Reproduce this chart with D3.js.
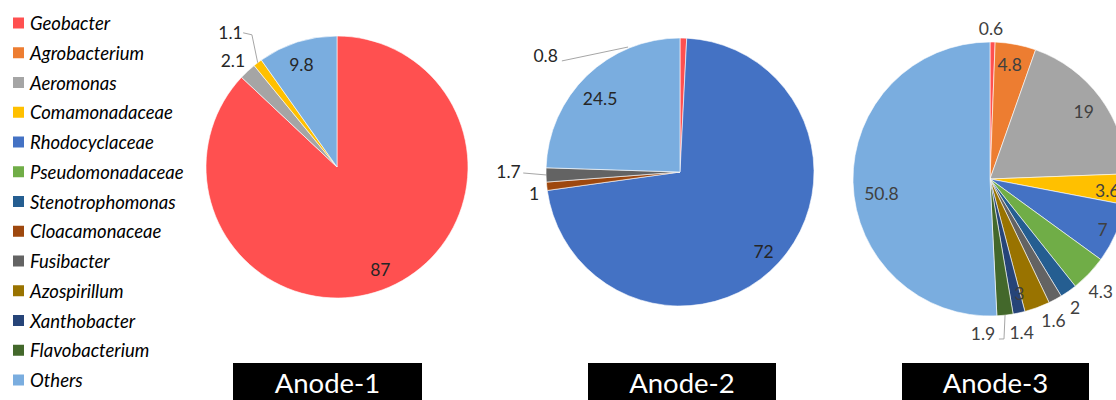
<!DOCTYPE html>
<html>
<head>
<meta charset="utf-8">
<script src="https://cdn.jsdelivr.net/npm/d3@7"></script>
<style>
  html, body { margin: 0; padding: 0; background: #fff; }
  svg { display: block; }
</style>
</head>
<body>
<svg id="chart" width="1116" height="400"></svg>
<script>
// Genus / family groups, in legend and slice order
const categories = [
  "Geobacter", "Agrobacterium", "Aeromonas", "Comamonadaceae", "Rhodocyclaceae",
  "Pseudomonadaceae", "Stenotrophomonas", "Cloacamonaceae", "Fusibacter",
  "Azospirillum", "Xanthobacter", "Flavobacterium", "Others"
];
const colors = [
  "#FF5050", "#ED7D31", "#A5A5A5", "#FFC000", "#4472C4",
  "#70AD47", "#255E91", "#9E480E", "#636363",
  "#997300", "#264478", "#43682B", "#7AADDF"
];

// Relative abundance (%) per anode; 0 = not present
const anode1 = [87, 0, 2.1, 1.1, 0, 0, 0, 0, 0, 0, 0, 0, 9.8];
const anode2 = [0.8, 0, 0, 0, 72, 0, 0, 1, 1.7, 0, 0, 0, 24.5];
const anode3 = [0.6, 4.8, 19, 3.6, 7, 4.3, 2, 0, 1.6, 3, 1.4, 1.9, 50.8];
const panelTitles = ["Anode-1", "Anode-2", "Anode-3"];

// Pie geometry and label placement (k = fraction of radius, off = degrees from slice middle)
const panels = [
  { values: anode1, title: panelTitles[0], cx: 337, cy: 167, r: 131, box: [233, 422], labelColor: "#262626",
    labels: {
      "Geobacter": { k: 0.85, off: 0.5 },
      "Aeromonas": { k: 1.135, off: -1.4 },
      "Comamonadaceae": { k: 1.31, off: -1.1, leader: [[1, 0], [1.2, 4.5], [1.25, 2.3]] },
      "Others": { k: 0.83, off: -1.5 }
    } },
  { values: anode2, title: panelTitles[1], cx: 680, cy: 172, r: 134, box: [588, 776], labelColor: "#262626",
    labels: {
      "Geobacter": { k: 1.325, off: -50.6, leader: [[1.01, -24], [1.21, -48.2]] },
      "Rhodocyclaceae": { k: 0.86, off: 1.0 },
      "Cloacamonaceae": { k: 1.10, off: -2.1 },
      "Fusibacter": { k: 1.28, off: 1.3, leader: [[1, 0], [1.17, 0.9]] },
      "Others": { k: 0.81, off: -3.3 }
    } },
  { values: anode3, title: panelTitles[2], cx: 990, cy: 179, r: 137, box: [902, 1089], labelColor: "#404040",
    labels: {
      "Geobacter": { k: 1.095, off: -0.7 },
      "Agrobacterium": { k: 0.85, off: -1.1 },
      "Aeromonas": { k: 0.845, off: 0.4 },
      "Comamonadaceae": { k: 0.86, off: 1.1 },
      "Rhodocyclaceae": { k: 0.9, off: 0.6 },
      "Pseudomonadaceae": { k: 1.15, off: 1.6 },
      "Stenotrophomonas": { k: 1.125, off: 1.4 },
      "Fusibacter": { k: 1.13, off: 4.2 },
      "Azospirillum": { k: 0.86, off: 5.7 },
      "Xanthobacter": { k: 1.145, off: 0.6 },
      "Flavobacterium": { k: 1.13, off: 8.9, leader: [[1, 0], [1.172, 1.3], [1.17, 3.1]] },
      "Others": { k: 0.80, off: -6.4 }
    } }
];

const svg = d3.select("#chart");
const FONT = "Lato, 'Open Sans', 'DejaVu Sans', sans-serif";

const color = d3.scaleOrdinal().domain(categories).range(colors);
const pie = d3.pie().sort(null).value(d => d.value);

function polar(p, k, angle) {
  return [p.cx + k * p.r * Math.sin(angle), p.cy - k * p.r * Math.cos(angle)];
}

panels.forEach(p => {
  const data = categories.map((c, i) => ({ name: c, value: p.values[i] })).filter(d => d.value > 0);
  const arcs = pie(data);
  const arc = d3.arc().innerRadius(0).outerRadius(p.r);
  const g = svg.append("g");

  g.append("g")
    .attr("transform", `translate(${p.cx},${p.cy})`)
    .selectAll("path")
    .data(arcs)
    .join("path")
    .attr("d", arc)
    .attr("fill", d => color(d.data.name))
    .attr("stroke", "#fff")
    .attr("stroke-width", 0.6);

  arcs.forEach(a => {
    const cfg = p.labels[a.data.name];
    if (!cfg) return;
    const mid = (a.startAngle + a.endAngle) / 2;
    const rad = deg => deg * Math.PI / 180;
    if (cfg.leader) {
      const pts = cfg.leader.map(([k, off]) => polar(p, k, mid + rad(off)));
      g.append("path")
        .attr("d", d3.line()(pts))
        .attr("fill", "none")
        .attr("stroke", "#A6A6A6")
        .attr("stroke-width", 1);
    }
    const [x, y] = polar(p, cfg.k, mid + rad(cfg.off));
    g.append("text")
      .attr("x", x)
      .attr("y", y)
      .attr("text-anchor", "middle")
      .attr("dominant-baseline", "central")
      .attr("font-family", FONT)
      .attr("font-size", 17.5)
      .attr("fill", p.labelColor)
      .text(a.data.value);
  });

  // Title plate under each pie
  g.append("rect")
    .attr("x", p.box[0])
    .attr("y", 363)
    .attr("width", p.box[1] - p.box[0])
    .attr("height", 40)
    .attr("fill", "#000");
  g.append("text")
    .attr("x", (p.box[0] + p.box[1]) / 2)
    .attr("y", 393)
    .attr("text-anchor", "middle")
    .attr("font-family", FONT)
    .attr("font-size", 27.5)
    .attr("fill", "#fff")
    .text(p.title);
});

// Legend
const legendY = d3.scalePoint().domain(categories).range([23, 380]);
const legend = svg.append("g")
  .selectAll("g")
  .data(categories)
  .join("g")
  .attr("transform", d => `translate(13,${legendY(d)})`);
legend.append("rect")
  .attr("x", 0).attr("y", -5.5)
  .attr("width", 11).attr("height", 11)
  .attr("fill", d => color(d));
legend.append("text")
  .attr("x", 17)
  .attr("y", 0)
  .attr("dominant-baseline", "central")
  .attr("font-family", FONT)
  .attr("font-style", "italic")
  .attr("font-size", 18.5)
  .attr("fill", "#000")
  .text(d => d);
</script>
</body>
</html>
